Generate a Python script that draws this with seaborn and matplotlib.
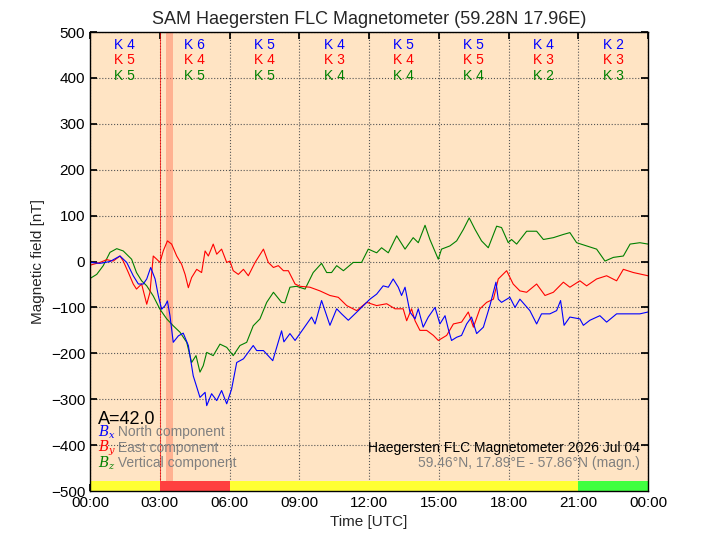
import matplotlib
matplotlib.use("Agg")
import matplotlib.pyplot as plt
import seaborn as sns
import numpy as np
import pandas as pd

# Values (hours UTC, nT)
bx_hours = [0.0, 0.43, 0.86, 1.29, 1.58, 1.86, 2.08, 2.29, 2.44, 2.61, 2.8, 2.94, 3.08, 3.23, 3.33,
            3.44, 3.58, 3.8, 4.01, 4.23, 4.44, 4.73, 4.95, 5.02, 5.23, 5.45, 5.66, 5.88, 6.09, 6.31,
            6.6, 7.02, 7.17, 7.46, 7.86, 8.24, 8.34, 8.6, 8.82, 9.17, 9.53, 9.68, 9.96, 10.32, 10.61,
            10.82, 11.11, 11.54, 12.04, 12.33, 12.61, 12.83, 13.04, 13.26, 13.4, 13.55, 13.76, 13.98,
            14.12, 14.33, 14.55, 14.84, 15.05, 15.27, 15.41, 15.55, 15.77, 15.98, 16.2, 16.41, 16.63,
            16.92, 17.2, 17.46, 17.56, 17.7, 18.06, 18.28, 18.49, 18.92, 19.21, 19.42, 19.78, 20.07,
            20.24, 20.39, 20.64, 21.07, 21.22, 21.5, 21.93, 22.22, 22.65, 23.08, 23.65, 24.0]
bx_vals = [-2, -4, 0, 12, -2, -31, -49, -49, -38, -13, -38, -75, -104, -96, -86,
           -118, -176, -162, -156, -183, -249, -296, -285, -314, -288, -303, -281, -310, -278, -220,
           -212, -183, -194, -194, -216, -151, -175, -157, -172, -147, -121, -136, -85, -139, -103,
           -114, -128, -107, -82, -71, -53, -56, -38, -56, -74, -56, -110, -125,
           -103, -143, -121, -100, -136, -118, -147, -172, -165, -161, -136, -121, -157,
           -143, -96, -45, -82, -89, -78, -100, -82, -107, -136, -114, -114, -107,
           -85, -139, -121, -125, -139, -128, -118, -132, -114, -114, -114, -110]

by_hours = [0.0, 0.43, 0.72, 1.0, 1.29, 1.43, 1.65, 1.86, 2.0, 2.22, 2.44, 2.58, 2.72, 2.87, 3.01,
            3.15, 3.33, 3.51, 3.73, 3.94, 4.09, 4.23, 4.37, 4.59, 4.8, 4.95, 5.09, 5.3, 5.45, 5.66,
            5.88, 6.02, 6.16, 6.38, 6.6, 6.81, 7.1, 7.46, 7.67, 7.89, 8.1, 8.32, 8.53, 8.82, 9.03,
            9.46, 9.89, 10.32, 10.68, 11.04, 11.47, 11.9, 12.33, 12.76, 13.12, 13.47, 13.62, 13.83,
            13.98, 14.19, 14.48, 14.77, 14.98, 15.34, 15.63, 15.98, 16.27, 16.49, 16.77, 17.06,
            17.35, 17.56, 17.92, 18.2, 18.49, 18.78, 19.21, 19.57, 19.93, 20.36, 20.64, 21.07,
            21.36, 21.79, 22.22, 22.65, 22.94, 23.37, 24.0]
by_vals = [-8, -2, 4, 1, 12, 1, -24, -49, -60, -49, -93, -67, 12, 5, -2,
           23, 45, 38, 12, -6, -28, -57, -35, -17, -24, 23, 12, 38, 16, 27,
           -2, 1, -20, -28, -17, -31, -2, 27, -2, -13, -9, -20, -20, -49, -54,
           -56, -64, -74, -78, -96, -107, -89, -96, -92, -103, -103, -129, -103,
           -129, -150, -150, -161, -172, -161, -136, -132, -110, -143, -103, -89,
           -82, -38, -20, -49, -64, -67, -49, -74, -67, -45, -56, -42,
           -53, -38, -31, -42, -17, -24, -31]

bz_hours = [0.0, 0.29, 0.57, 0.86, 1.15, 1.43, 1.79, 2.0, 2.22, 2.44, 2.72, 3.01, 3.3, 3.58, 3.87,
            4.16, 4.37, 4.56, 4.73, 4.87, 5.02, 5.3, 5.59, 5.88, 6.16, 6.45, 6.74, 7.02, 7.31, 7.6,
            7.89, 8.24, 8.38, 8.6, 8.88, 9.25, 9.6, 9.96, 10.18, 10.39, 10.61, 10.9, 11.32, 11.68,
            11.97, 12.33, 12.54, 12.83, 13.19, 13.55, 13.9, 14.12, 14.41, 14.62, 14.98, 15.12, 15.48,
            15.77, 16.06, 16.31, 16.56, 16.84, 17.13, 17.49, 17.7, 17.99, 18.13, 18.35, 18.78, 19.21,
            19.5, 19.93, 20.36, 20.64, 20.93, 21.36, 21.79, 22.15, 22.51, 22.94, 23.23, 23.65, 24.0]
bz_vals = [-37, -28, -9, 20, 28, 23, 5, -24, -42, -53, -75, -104, -125, -140, -154,
           -176, -220, -205, -241, -227, -198, -205, -180, -187, -205, -183, -176, -140, -125, -89,
           -67, -89, -90, -56, -54, -60, -24, -4, -24, -24, -9, -20, -2, -2,
           27, 19, 30, 19, 56, 27, 52, 41, 79, 48, 5, 27, 34,
           45, 70, 95, 70, 45, 30, 77, 74, 41, 48, 38, 66, 66,
           48, 52, 59, 63, 41, 34, 27, 1, 9, 12, 38, 41, 38]

k_centers = [1.5, 4.5, 7.5, 10.5, 13.5, 16.5, 19.5, 22.5]
k_x = [4, 6, 5, 4, 5, 5, 4, 2]
k_y = [5, 4, 4, 3, 4, 5, 3, 3]
k_z = [5, 5, 5, 4, 4, 4, 2, 3]

bar_starts = [0, 3, 6, 21]
bar_ends = [3, 6, 21, 24]
bar_colors = ["#ffff33", "#ff4040", "#ffff33", "#40ff40"]

sns.set_theme(style="ticks")
plt.rcParams["font.family"] = ["Liberation Sans", "DejaVu Sans"]
plt.rcParams["mathtext.fontset"] = "dejavuserif"

fig = plt.figure(figsize=(7.2, 5.4), dpi=100)
ax = fig.add_axes([0.125, 0.0907, 0.775, 0.85])
ax.set_facecolor("#ffe4c4")

df = pd.concat([
    pd.DataFrame({"t": bx_hours, "v": bx_vals, "c": "Bx"}),
    pd.DataFrame({"t": by_hours, "v": by_vals, "c": "By"}),
    pd.DataFrame({"t": bz_hours, "v": bz_vals, "c": "Bz"}),
])
sns.lineplot(data=df, x="t", y="v", hue="c", palette={"Bx": "blue", "By": "red", "Bz": "green"},
             hue_order=["Bz", "By", "Bx"], linewidth=0.8, legend=False, ax=ax, sort=False)

# storm markers
ax.axvline(3.0, color="red", linewidth=0.6, alpha=0.8, zorder=1)
ax.axvspan(3.25, 3.55, color="#ff7f60", alpha=0.5, linewidth=0, zorder=1)

# activity bar along the bottom
for s, e, c in zip(bar_starts, bar_ends, bar_colors):
    ax.fill_between([s, e], -500, -478, color=c, linewidth=0, zorder=3)

# K indices
for xc, a, b, c in zip(k_centers, k_x, k_y, k_z):
    ax.text(xc, 472, f"K {a}", color="blue", ha="center", va="center", fontsize=10)
    ax.text(xc, 439, f"K {b}", color="red", ha="center", va="center", fontsize=10)
    ax.text(xc, 404, f"K {c}", color="green", ha="center", va="center", fontsize=10)

ax.set_xlim(0, 24)
ax.set_ylim(-500, 500)
ax.set_xticks(range(0, 25, 3))
ax.set_xticklabels([f"{h % 24:02d}:00" for h in range(0, 25, 3)])
ax.set_yticks(range(-500, 501, 100))
ax.tick_params(direction="in", top=True, right=True, length=5, labelsize=11, colors="black")
ax.grid(True, linestyle=":", color="#555555", linewidth=0.8)
for sp in ax.spines.values():
    sp.set_color("black")
    sp.set_linewidth(1.0)
    sp.set_zorder(5)

ax.set_xlabel("Time [UTC]", fontsize=11)
ax.set_ylabel("Magnetic field [nT]", fontsize=11)
ax.set_title("SAM Haegersten FLC Magnetometer (59.28N 17.96E)", fontsize=13)

# legend-like annotations (overlap with A= is as in the reference)
ax.text(0.015, 0.155, "A=42.0", transform=ax.transAxes, fontsize=13, color="black", va="center")
leg = [("$B_x$", "blue", " North component"), ("$B_y$", "red", " East component"),
       ("$B_z$", "green", " Vertical component")]
for i, (sym, col, lab) in enumerate(leg):
    yy = 0.128 - i * 0.034
    ax.text(0.015, yy, sym, transform=ax.transAxes, color=col, fontsize=10, va="center")
    ax.text(0.043, yy, lab, transform=ax.transAxes, color="gray", fontsize=10, va="center")

ax.text(0.985, 0.094, "Haegersten FLC Magnetometer 2026 Jul 04", transform=ax.transAxes,
        ha="right", va="center", fontsize=10, color="black")
ax.text(0.985, 0.060, "59.46°N, 17.89°E - 57.86°N (magn.)", transform=ax.transAxes,
        ha="right", va="center", fontsize=10, color="gray")

fig.savefig("out.png", dpi=100)
